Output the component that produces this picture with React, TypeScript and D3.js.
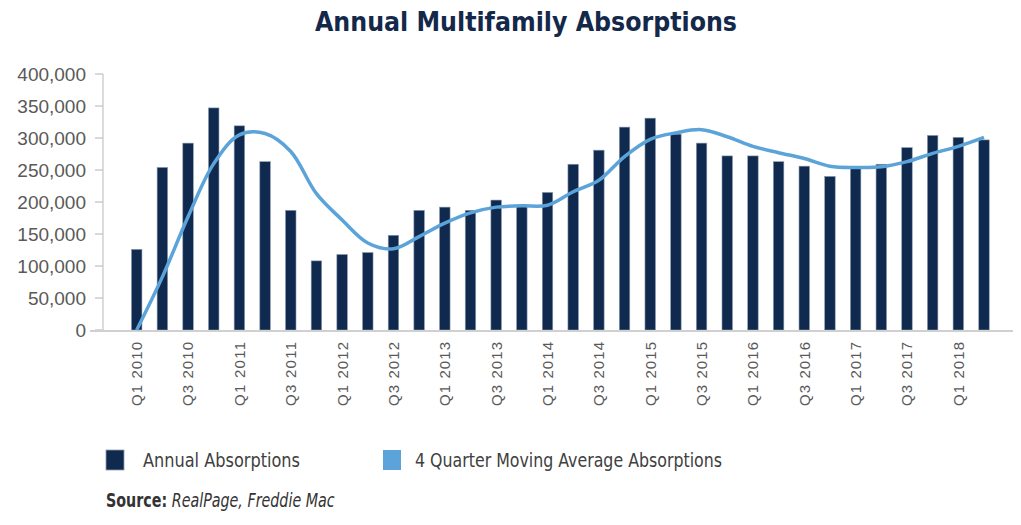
import React, { useLayoutEffect, useRef, useState } from "react";
import * as d3 from "d3";

const quarters = [
  "Q1 2010","Q2 2010","Q3 2010","Q4 2010",
  "Q1 2011","Q2 2011","Q3 2011","Q4 2011",
  "Q1 2012","Q2 2012","Q3 2012","Q4 2012",
  "Q1 2013","Q2 2013","Q3 2013","Q4 2013",
  "Q1 2014","Q2 2014","Q3 2014","Q4 2014",
  "Q1 2015","Q2 2015","Q3 2015","Q4 2015",
  "Q1 2016","Q2 2016","Q3 2016","Q4 2016",
  "Q1 2017","Q2 2017","Q3 2017","Q4 2017",
  "Q1 2018","Q2 2018",
];

const annualAbsorptions = [
  126000, 254000, 292000, 347000,
  319000, 263000, 187000, 108000,
  118000, 121000, 148000, 187000,
  192000, 187000, 203000, 194000,
  215000, 259000, 281000, 317000,
  331000, 306000, 292000, 272000,
  272000, 263000, 256000, 240000,
  253000, 259000, 285000, 304000,
  301000, 297000,
];

const movingAverage = [
  0, 83000, 177000, 260000,
  305000, 307000, 279000, 213000,
  172000, 136000, 127000, 146000,
  167000, 183000, 192000, 194000,
  195000, 216000, 234000, 271000,
  298000, 308000, 313000, 302000,
  287000, 277000, 268000, 256000,
  254000, 255000, 263000, 276000,
  287000, 301000,
];

const yTicks = [0, 50000, 100000, 150000, 200000, 250000, 300000, 350000, 400000];
const xTickLabels = quarters.filter((_, i) => i % 2 === 0);

const title = "Annual Multifamily Absorptions";
const legendLabels = ["Annual Absorptions", "4 Quarter Moving Average Absorptions"];

const NAVY = "#0f2a4e";
const LIGHT = "#5ba3d9";
const NARROW = "'Liberation Sans Narrow', 'DejaVu Sans Condensed', 'Arial Narrow', sans-serif";
const SANS = "'Liberation Sans', Arial, sans-serif";

export default function App() {
  const x = d3.scalePoint<string>().domain(quarters).range([136.7, 984]);
  const y = d3.scaleLinear().domain([0, 400000]).range([330, 74]);
  const fmt = d3.format(",");
  const barW = 10.5;

  const srcRef = useRef<SVGTextElement | null>(null);
  const [srcScale, setSrcScale] = useState(0.8);
  useLayoutEffect(() => {
    if (srcRef.current) {
      const w = srcRef.current.getBBox().width;
      if (w > 0) setSrcScale(229 / w);
    }
  }, []);

  const line = d3
    .line<number>()
    .x((_, i) => x(quarters[i]) as number)
    .y((d) => y(d))
    .curve(d3.curveCatmullRom.alpha(0.5));

  return (
    <svg
      width={1021}
      height={525}
      style={{ position: "absolute", left: 0, top: 0, background: "#fff" }}
    >
      <text
        x={526}
        y={31}
        textAnchor="middle"
        fontFamily={NARROW}
        fontWeight="bold"
        fontSize={26}
        fill="#14284a"
        textLength={422}
        lengthAdjust="spacingAndGlyphs"
      >
        {title}
      </text>

      {/* y axis line */}
      <line x1={103} x2={103} y1={74} y2={331} stroke="#d0d0d0" strokeWidth={1.5} />
      {yTicks.map((t) => (
        <g key={t}>
          <line x1={95} x2={103} y1={y(t)} y2={y(t)} stroke="#bfbfbf" strokeWidth={1.2} />
          <text
            x={86}
            y={y(t)}
            dy="0.36em"
            textAnchor="end"
            fontFamily={SANS}
            fontSize={19}
            fill="#595959"
          >
            {fmt(t)}
          </text>
        </g>
      ))}

      {/* bars */}
      {annualAbsorptions.map((v, i) => (
        <rect
          key={quarters[i]}
          x={(x(quarters[i]) as number) - barW / 2}
          y={y(v)}
          width={barW}
          height={y(0) - y(v)}
          fill={NAVY}
          stroke="#8e9bb0"
          strokeWidth={0.6}
        />
      ))}

      {/* x axis line */}
      <line x1={90} x2={1013} y1={331} y2={331} stroke="#d0d0d0" strokeWidth={1.8} />

      {/* moving average line */}
      <path d={line(movingAverage) || ""} fill="none" stroke={LIGHT} strokeWidth={3.5} strokeLinejoin="round" />

      {/* x tick labels */}
      {xTickLabels.map((q) => {
        const cx = x(q) as number;
        return (
          <text
            key={q}
            transform={`translate(${cx},342) rotate(-90)`}
            dy="0.36em"
            textAnchor="end"
            fontFamily={SANS}
            fontSize={15}
            fill="#595959"
            textLength={64}
            lengthAdjust="spacing"
          >
            {q}
          </text>
        );
      })}

      {/* legend */}
      <rect x={106} y={450} width={18} height={20} fill={NAVY} stroke="#8e9bb0" strokeWidth={0.8} />
      <text
        x={143}
        y={467}
        fontFamily={NARROW}
        fontSize={19}
        fill="#404040"
        textLength={157}
        lengthAdjust="spacingAndGlyphs"
      >
        {legendLabels[0]}
      </text>
      <rect x={383} y={450} width={18} height={20} fill={LIGHT} />
      <text
        x={415}
        y={467}
        fontFamily={NARROW}
        fontSize={19}
        fill="#404040"
        textLength={307}
        lengthAdjust="spacingAndGlyphs"
      >
        {legendLabels[1]}
      </text>

      {/* source */}
      <g transform={`translate(106,507) scale(${srcScale},1)`}>
        <text ref={srcRef} x={0} y={0} fontFamily={NARROW} fontSize={19} fill="#333">
          <tspan fontWeight="bold">Source:</tspan>
          <tspan fontStyle="italic"> RealPage, Freddie Mac</tspan>
        </text>
      </g>
    </svg>
  );
}
